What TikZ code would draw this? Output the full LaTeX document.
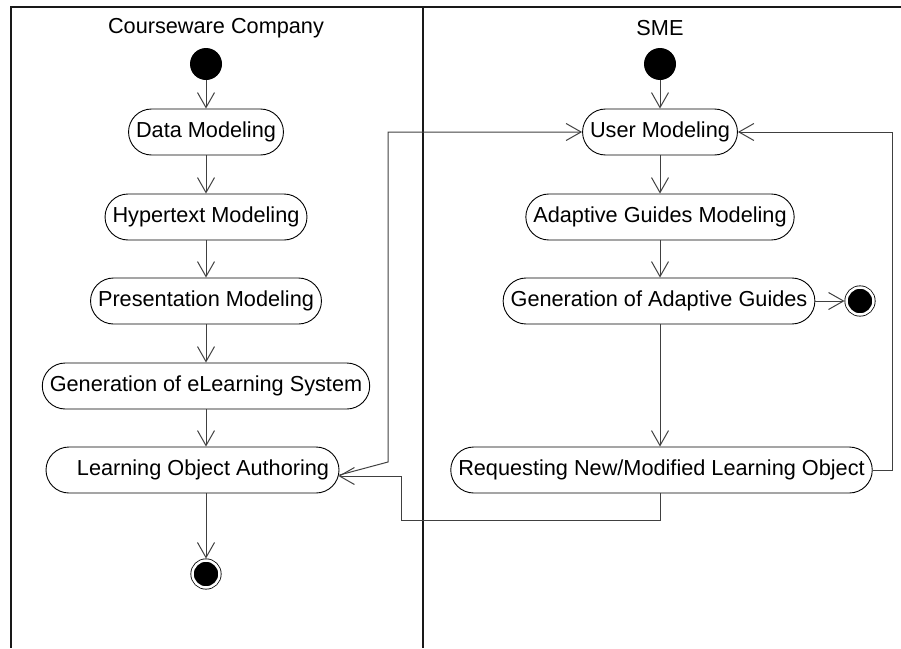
\documentclass[tikz,border=0pt]{standalone}
\usepackage{fontspec}
\setmainfont{Liberation Sans}
\usetikzlibrary{arrows.meta,calc}

\begin{document}
\begin{tikzpicture}[x=1pt,y=-1pt,
  act/.style={draw, rounded corners=23pt, minimum height=46pt, inner xsep=7.5pt,
    font=\fontsize{21.7}{26}\selectfont, line width=0.9pt},
  lane/.style={font=\fontsize{21.7}{26}\selectfont},
  initial/.style={circle, fill=black, minimum size=32pt, inner sep=0pt},
  final/.style={circle, fill=black, minimum size=27pt, inner sep=0pt, draw=black,
    line width=0.8pt, double=white, double distance=2.5pt, outer sep=2pt},
  flow/.style={black!75, line width=1pt, -{Straight Barb[length=15pt,width=17pt]}}]
  \useasboundingbox (0,0) rectangle (901,648);

  % swimlanes
  \draw[line width=1.6pt, black!90] (901,7) -- (11,7) -- (11,648);
  \draw[line width=1.6pt, black!90] (423,7) -- (423,648);
  \node[lane] (cc) at (216,28) {Courseware Company};
  \node[lane] (sme) at (660,28) {SME};

  % Courseware Company
  \node[initial] (start1) at (206,64) {};
  \node[act] (dm) at (206,132) {Data Modeling};
  \node[act] (hm) at (206,217) {Hypertext Modeling};
  \node[act] (pm) at (206,301) {Presentation Modeling};
  \node[act] (gel) at (206,386) {Generation of eLearning System};
  \node[act, minimum width=293pt, inner xsep=0pt] (loa) at (192.5,470)
    {\hspace*{21pt}Learning Object Authoring};
  \node[final] (end1) at (206,574) {};

  % SME
  \node[initial] (start2) at (660,64) {};
  \node[act] (um) at (660,132) {User Modeling};
  \node[act] (agm) at (660,217) {Adaptive Guides Modeling};
  \node[act] (gag) at (659,301) {Generation of Adaptive Guides};
  \node[act] (req) at (661.5,470) {Requesting New/Modified Learning Object};
  \node[final] (end2) at (860,301) {};

  % bend points
  \coordinate (k1) at (388,462);
  \coordinate (k2) at (401,520);
  \coordinate (k3) at (401,476);
  \coordinate (k4) at (892,132);

  \draw[flow] (start1) -- (dm);
  \draw[flow] (dm) -- (hm);
  \draw[flow] (hm) -- (pm);
  \draw[flow] (pm) -- (gel);
  \draw[flow] (gel.south -| start1) -- (loa.north -| start1);
  \draw[flow] (loa.south -| start1) -- (end1);

  \draw[flow] (start2) -- (um);
  \draw[flow] (um) -- (agm);
  \draw[flow] (agm.south -| start2) -- (gag.north -| start2);
  \draw[flow] (gag.south -| start2) -- (req.north -| start2);
  \draw[flow] (gag) -- (end2);

  \draw[flow] ($(loa.east)+(0,5)$) -- (k1) |- (um.west);
  \draw[flow] (req.south -| start2) |- (k2) -- (k3) -- ($(loa.east)+(-1,6)$);
  \draw[flow] (req.east) -| (k4) -- (um.east);
\end{tikzpicture}
\end{document}
